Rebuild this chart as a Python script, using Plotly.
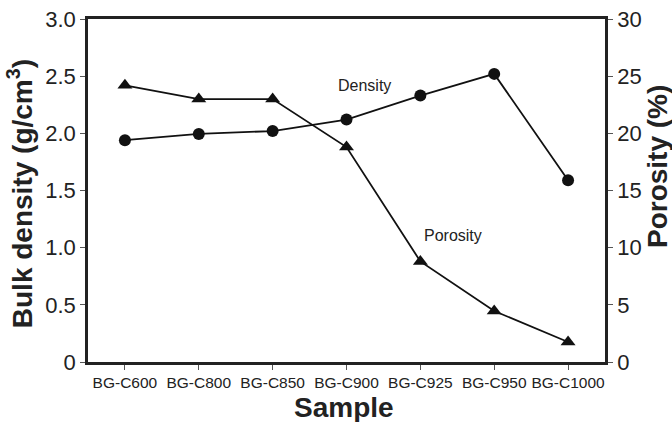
import plotly.graph_objects as go

samples = ["BG-C600", "BG-C800", "BG-C850", "BG-C900", "BG-C925", "BG-C950", "BG-C1000"]
density = [1.94, 1.995, 2.02, 2.12, 2.33, 2.52, 1.59]
porosity = [24.2, 23.0, 23.0, 18.8, 8.8, 4.46, 1.75]
left_ticks = [0, 0.5, 1.0, 1.5, 2.0, 2.5, 3.0]
left_labels = ["0", "0.5", "1.0", "1.5", "2.0", "2.5", "3.0"]
right_ticks = [0, 5, 10, 15, 20, 25, 30]

FONT = "Arial, Liberation Sans, sans-serif"
INK = "#222222"

fig = go.Figure()
fig.add_trace(go.Scatter(x=samples, y=density, mode="lines+markers", name="Density",
                         line=dict(color="#111111", width=1.8),
                         marker=dict(symbol="circle", size=12, color="#111111")))
fig.add_trace(go.Scatter(x=samples, y=porosity, mode="lines+markers", name="Porosity", yaxis="y2",
                         line=dict(color="#111111", width=1.8),
                         marker=dict(symbol="triangle-up", size=13, color="#111111")))

fig.update_layout(
    width=672, height=422,
    margin=dict(l=88, r=67, t=19, b=60, autoexpand=False),
    paper_bgcolor="white", plot_bgcolor="white",
    showlegend=False,
    font=dict(family=FONT, color=INK),
    xaxis=dict(type="category", range=[-0.5, 6.5], showline=True, linecolor=INK, linewidth=2.5,
               mirror=True, ticks="outside", ticklen=5, tickcolor="#555555",
               tickfont=dict(size=15.5, family=FONT, color=INK), automargin=False,
               showgrid=False, zeroline=False),
    yaxis=dict(range=[0, 3.0], tickvals=left_ticks, ticktext=left_labels, showline=True,
               linecolor=INK, linewidth=2.5, ticks="outside", ticklen=5, tickcolor="#555555",
               tickfont=dict(size=22, family=FONT, color=INK), automargin=False,
               showgrid=False, zeroline=False),
    yaxis2=dict(range=[0, 30], tickvals=right_ticks, overlaying="y", side="right", showline=True,
                linecolor=INK, linewidth=2.5, ticks="outside", ticklen=5, tickcolor="#555555",
                tickfont=dict(size=22, family=FONT, color=INK), automargin=False,
                showgrid=False, zeroline=False),
    annotations=[
        dict(x="BG-C900", y=2.42, xref="x", yref="y", text="Density", showarrow=False,
             font=dict(size=16, family=FONT, color=INK), xanchor="center", xshift=18),
        dict(x="BG-C925", y=11.1, xref="x", yref="y2", text="Porosity", showarrow=False,
             font=dict(size=16, family=FONT, color=INK), xanchor="left", xshift=2),
        dict(x=-0.131, y=0.49, xref="paper", yref="paper", text="<b>Bulk density (g/cm<sup>3</sup>)</b>",
             showarrow=False, textangle=-90, font=dict(size=28, family=FONT, color=INK),
             xanchor="center", yanchor="middle"),
        dict(x=1.1006, y=0.5685, xref="paper", yref="paper", text="<b>Porosity (%)</b>",
             showarrow=False, textangle=-90, font=dict(size=28, family=FONT, color=INK),
             xanchor="center", yanchor="middle"),
        dict(x=0.495, y=-0.134, xref="paper", yref="paper", text="<b>Sample</b>",
             showarrow=False, font=dict(size=28, family=FONT, color=INK),
             xanchor="center", yanchor="middle"),
    ],
)

fig.write_html("out.html", config={"displayModeBar": False},
               post_script="document.body.style.margin='0';")
